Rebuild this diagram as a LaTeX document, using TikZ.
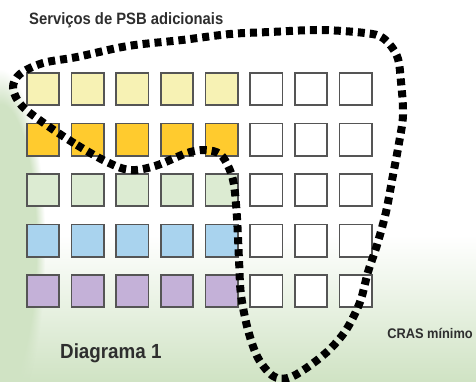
\documentclass[tikz,border=0pt]{standalone}
\usepackage{fontspec}
\setmainfont{Liberation Sans}
\usetikzlibrary{fadings}
\definecolor{bggreen}{HTML}{D0E3C4}
\definecolor{cellgray}{HTML}{555555}
\definecolor{textgray}{HTML}{2E2E2E}
\definecolor{rowA}{HTML}{F7F2B4}
\definecolor{rowB}{HTML}{FFCB2E}
\definecolor{rowC}{HTML}{DCEBD2}
\definecolor{rowD}{HTML}{A9D3EE}
\definecolor{rowE}{HTML}{C4B1D8}
\begin{document}
\begin{tikzpicture}[x=1bp, y=-1bp,
    cell/.style={draw=cellgray, line width=1.6bp, minimum size=32.4bp, inner sep=0pt, fill=white},
    captiontext/.style={text=textgray, inner sep=0pt, font=\bfseries\fontsize{#1}{#1}\selectfont},
    ringline/.style={line width=8bp, dash pattern=on 7bp off 5bp}
]
\useasboundingbox (0,0) rectangle (476,381);

% background
\fill[white] (0,0) rectangle (476,381);
\shade[top color=white, bottom color=bggreen] (0,235) rectangle (476,381);
\fill[bggreen, path fading=circle with fuzzy edge 20 percent] (-45,70) rectangle (45,420);

% grid of services
\foreach \r/\c in {1/rowA, 2/rowB, 3/rowC, 4/rowD, 5/rowE} {
  \foreach \k in {1,...,8} {
    \ifnum\k<6
      \node[cell, fill=\c] (sq-\r-\k) at ({43+(\k-1)*44.65}, {89+(\r-1)*50.5}) {};
    \else
      \node[cell] (sq-\r-\k) at ({43+(\k-1)*44.65}, {89+(\r-1)*50.5}) {};
    \fi
  }
}

% dotted boundary
\draw[ringline] plot[smooth cycle, tension=0.55] coordinates {
  (48,126) (77,145) (107,162) (130,170) (155,166) (187,153) (205,150)
  (220,154) (229,168) (234,185) (237,218) (239,260) (241,295) (248,330)
  (258,358) (273,376) (288,378) (305,369) (328,351) (346,330) (360,302)
  (368,272) (377,245) (386,212) (393,175) (399,143) (403,115) (401,82)
  (397,56) (383,38) (365,33) (320,30) (270,32) (230,34) (182,40)
  (128,46) (77,57) (43,63) (20,74) (13,88) (22,106)};

% texts
\node[captiontext=16.5, anchor=base west] (psb) at (29,24) {\scalebox{0.9}[1]{Serviços de PSB adicionais}};
\node[captiontext=20.5, anchor=base west] (diag) at (60,358) {\scalebox{0.92}[1]{Diagrama 1}};
\node[captiontext=14, anchor=base east] (cras) at (473,338) {\scalebox{0.92}[1]{CRAS mínimo}};

\end{tikzpicture}
\end{document}
